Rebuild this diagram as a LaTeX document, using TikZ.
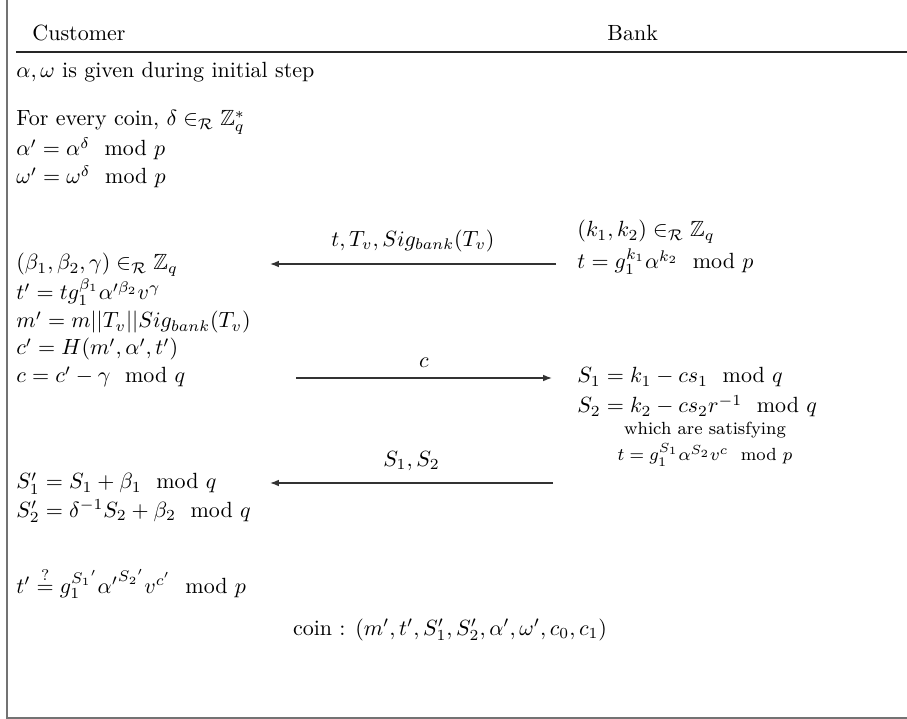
\documentclass[tikz,border=0pt]{standalone}
\usepackage{amsmath}
\usepackage{amssymb}
\usetikzlibrary{arrows.meta}

\begin{document}
\begin{tikzpicture}[
  x=0.4545pt, y=-0.4545pt,
  >={Latex[length=4pt, width=3pt]},
  txt/.style={anchor=base west, inner sep=0pt},
  note/.style={anchor=base, inner sep=0pt, font=\footnotesize},
  msg/.style={->, line width=0.6pt, draw=black!80},
  frame/.style={draw=black!55, line width=0.7pt}
]
\useasboundingbox (0,0) rectangle (907,719);
% frame and header rule
\draw[frame] (7,0) -- (7,718) -- (907,718);
\draw[line width=0.8pt, draw=black!85] (16,52) -- (907,52);
\node[txt] (hc) at (32,41) {Customer};
\node[txt] (hb) at (607,41) {Bank};
% customer side
\node[txt] (c0) at (16,78)  {$\alpha, \omega$ is given during initial step};
\node[txt] (c1) at (16,126) {For every coin, $\delta \in_{\mathcal{R}} \mathbb{Z}_q^*$};
\node[txt] (c2) at (16,156) {$\alpha' = \alpha^{\delta} \mod{p}$};
\node[txt] (c3) at (16,184) {$\omega' = \omega^{\delta} \mod{p}$};
\node[txt] (c4) at (16,270) {$(\beta_1, \beta_2, \gamma) \in_{\mathcal{R}} \mathbb{Z}_q$};
\node[txt] (c5) at (16,300) {$t' = t g_1^{\beta_1} \alpha'^{\beta_2} v^{\gamma}$};
\node[txt] (c6) at (16,328) {$m' = m || T_v || Sig_{bank}(T_v)$};
\node[txt] (c7) at (16,355) {$c' = H(m', \alpha', t')$};
\node[txt] (c8) at (16,383) {$c = c' - \gamma \mod{q}$};
\node[txt] (c9) at (16,489) {$S_1' = S_1 + \beta_1 \mod{q}$};
\node[txt] (c10) at (16,517) {$S_2' = \delta^{-1} S_2 + \beta_2 \mod{q}$};
\node[txt] (c11) at (16,593) {$t' \stackrel{?}{=} g_1^{{S_1}'} {\alpha'}^{{S_2}'} v^{c'} \mod{p}$};
\node[anchor=base, inner sep=0pt] (coin) at (450,635)
  {coin : $(m', t', S_1', S_2', \alpha', \omega', c_0, c_1)$};
% bank side
\node[txt] (b0) at (577,237) {$(k_1, k_2) \in_{\mathcal{R}} \mathbb{Z}_q$};
\node[txt] (b1) at (577,269) {$t = g_1^{k_1} \alpha^{k_2} \mod{p}$};
\node[txt] (b2) at (577,383) {$S_1 = k_1 - c s_1 \mod{q}$};
\node[txt] (b3) at (577,413) {$S_2 = k_2 - c s_2 r^{-1} \mod{q}$};
\node[note] (b4) at (705,435) {which are satisfying};
\node[note] (b5) at (705,461) {$t = g_1^{S_1} \alpha^{S_2} v^{c} \mod{p}$};
% messages
\coordinate (m1a) at (556,264);
\coordinate (m1b) at (270,264);
\coordinate (m2a) at (296,378);
\coordinate (m2b) at (552,378);
\coordinate (m3a) at (553,483);
\coordinate (m3b) at (270,483);
\draw[msg] (m1a) -- node[above=2pt] {$t, T_v, Sig_{bank}(T_v)$} (m1b);
\draw[msg] (m2a) -- node[above=1pt] {$c$} (m2b);
\draw[msg] (m3a) -- node[above=2pt] {$S_1, S_2$} (m3b);
\end{tikzpicture}
\end{document}
